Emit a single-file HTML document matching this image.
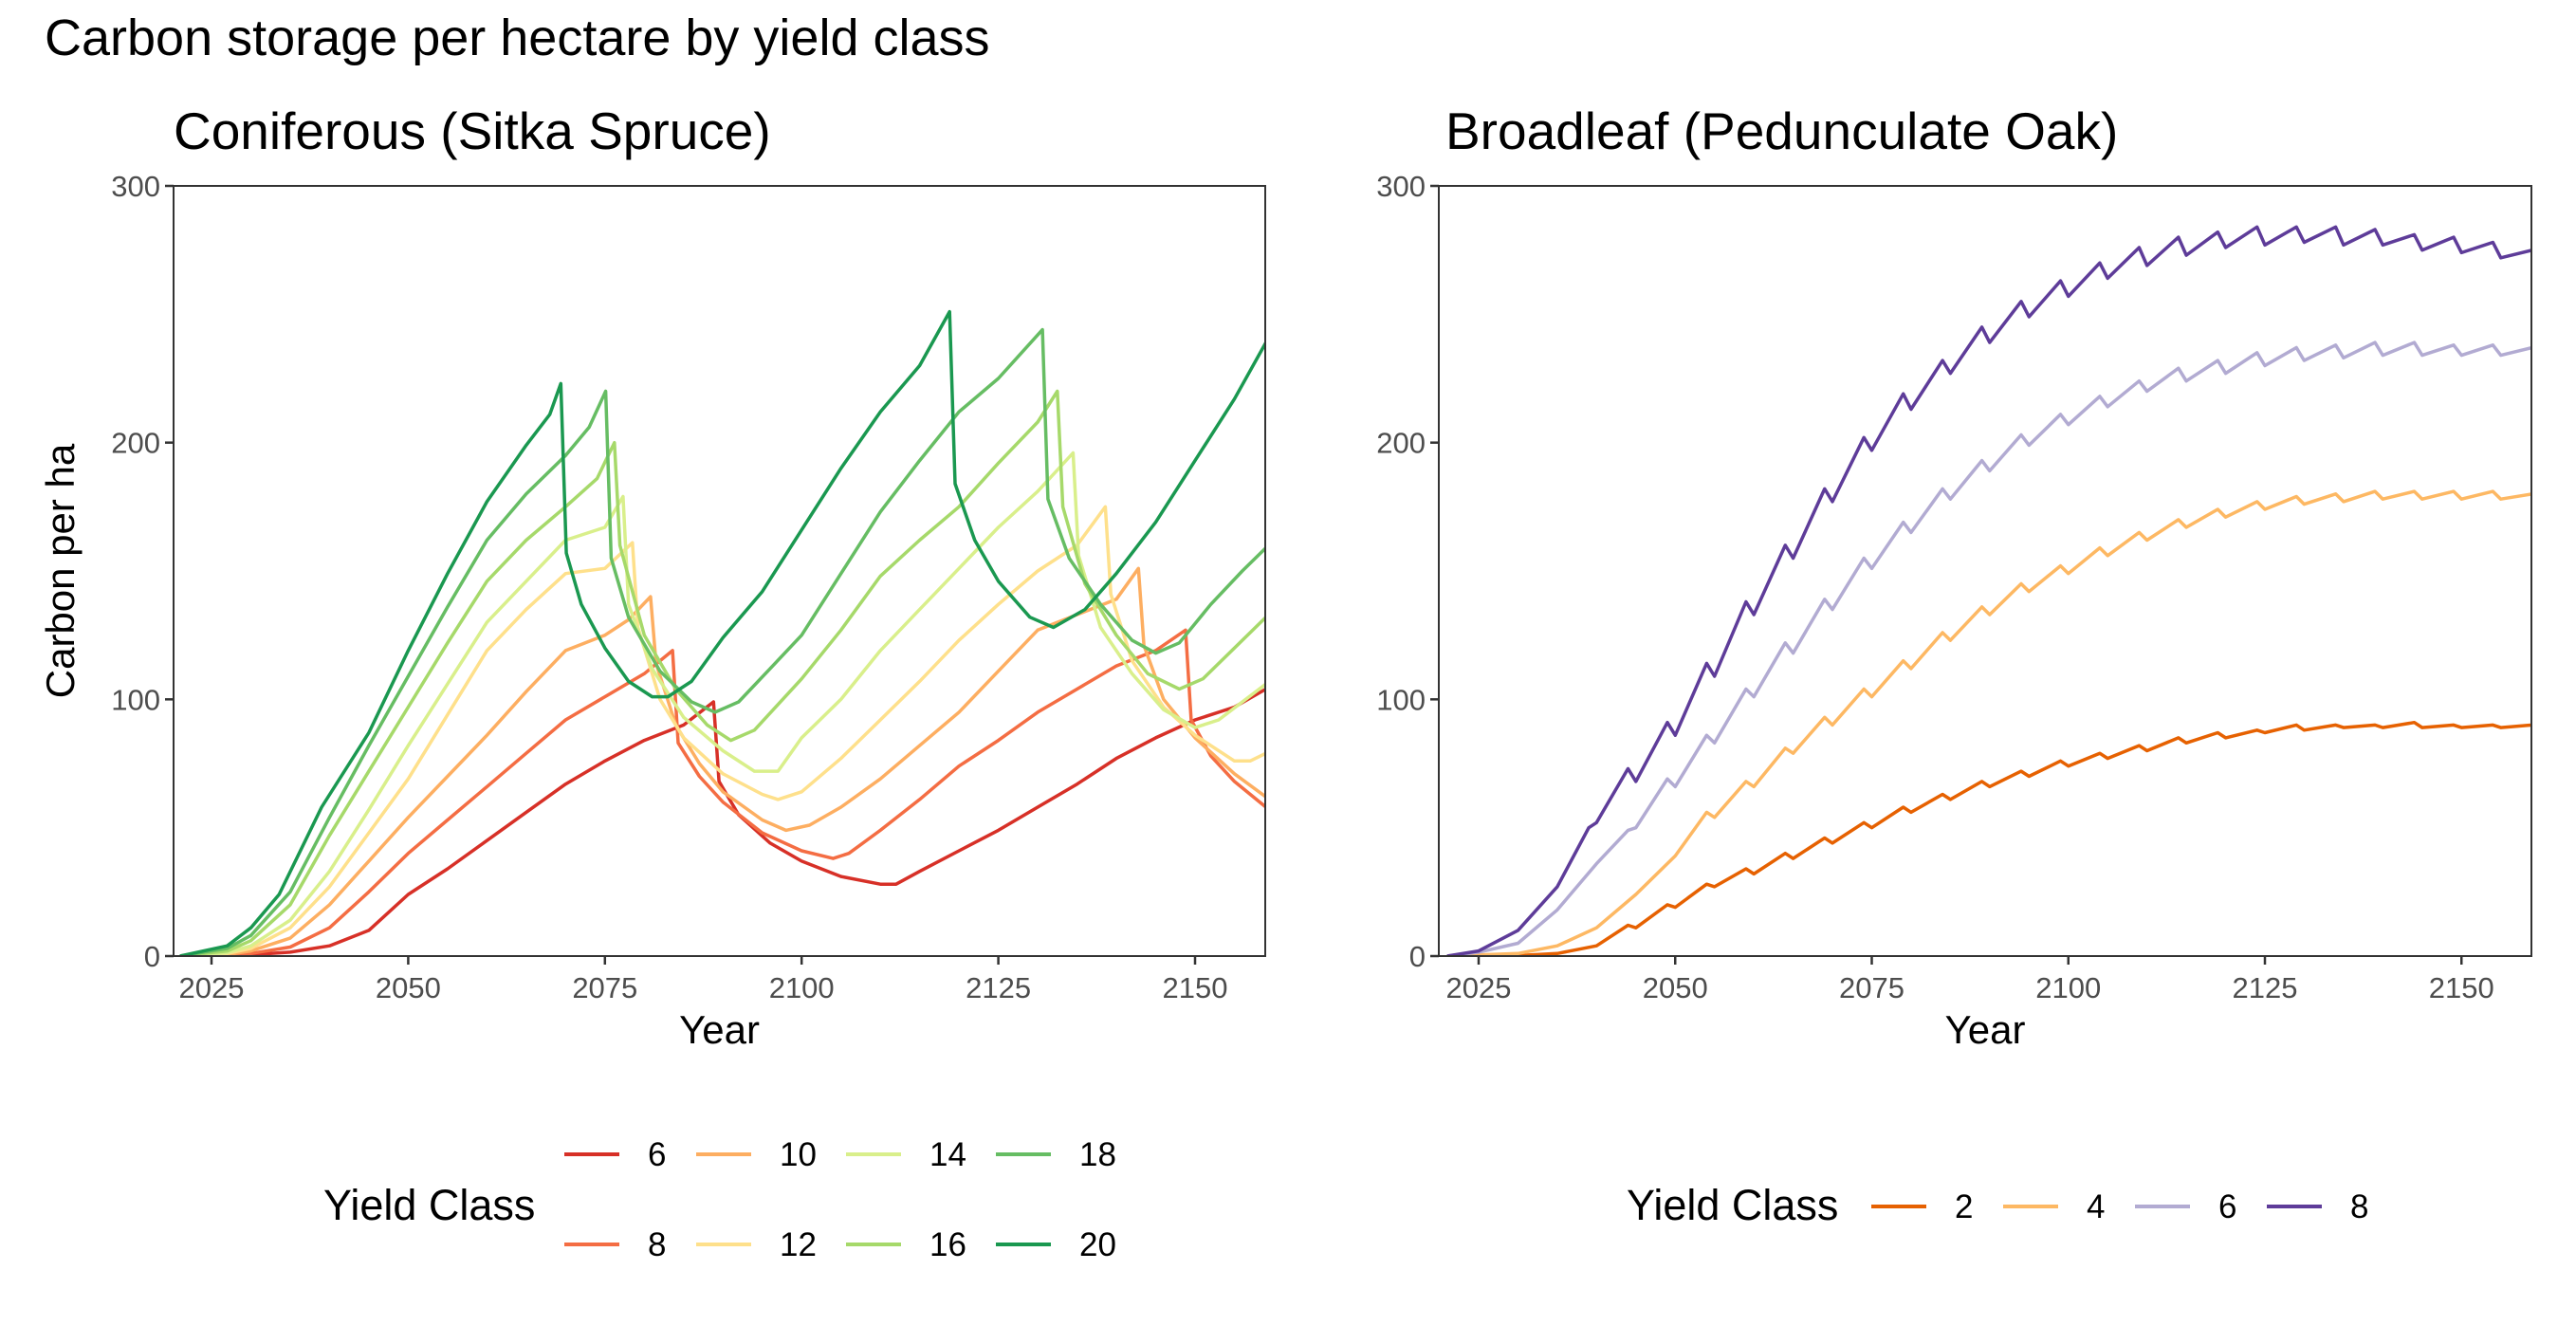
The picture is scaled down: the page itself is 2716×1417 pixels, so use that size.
<!DOCTYPE html>
<html><head><meta charset="utf-8"><style>
html,body{margin:0;padding:0;background:#fff;}
svg{display:block;font-family:"Liberation Sans",Arial,sans-serif;}
</style></head><body>
<svg id="chart" width="2716" height="1417" viewBox="0 0 2716 1417" xmlns="http://www.w3.org/2000/svg">
<text x="47" y="58" font-size="54" fill="#000">Carbon storage per hectare by yield class</text>
<text x="183" y="157" font-size="55" fill="#000">Coniferous (Sitka Spruce)</text>
<text x="1524" y="157" font-size="55" fill="#000">Broadleaf (Pedunculate Oak)</text>
<g id="left"></g>
<g id="right"></g>
<g id="legL"></g>
<g id="legR"></g>
</svg>
<script>
const yTicks = [0, 100, 200, 300];
const xTicks = [2025, 2050, 2075, 2100, 2125, 2150];
const conClasses = ["6","8","10","12","14","16","18","20"];
const conColors = ["#d73027","#f46d43","#fdae61","#fee08b","#d9ef8b","#a6d96a","#66bd63","#1a9850"];
const yc6  = [[2021,0],[2027,0.2],[2030,0.5],[2035,1.5],[2040,4],[2045,10],[2050,24],[2055,34],[2060,45],[2065,56],[2070,67],[2075,76],[2080,84],[2085,90],[2088.8,99],[2089.5,68],[2092,55],[2096,44],[2100,37],[2105,31],[2110,28],[2112,28],[2115,33],[2120,41],[2125,49],[2130,58],[2135,67],[2140,77],[2145,85],[2150,92],[2155,97],[2159,104]];
const yc8  = [[2021,0],[2027,0.3],[2030,1],[2035,3.5],[2040,11],[2045,25],[2050,40],[2055,53],[2060,66],[2065,79],[2070,92],[2075,101],[2080,110],[2083.6,119],[2084.3,83],[2087,70],[2090,60],[2095,48],[2100,41],[2104,38],[2106,40],[2110,49],[2115,61],[2120,74],[2125,84],[2130,95],[2135,104],[2140,113],[2145,119],[2148.8,127],[2149.5,92],[2152,78],[2155,68],[2159,58]];
const yc10 = [[2021,0],[2027,0.6],[2030,2],[2035,7],[2040,20],[2045,37],[2050,54],[2055,70],[2060,86],[2065,103],[2070,119],[2075,125],[2078,131],[2080.8,140],[2081.5,114],[2084,90],[2087,75],[2090,64],[2095,53],[2098,49],[2101,51],[2105,58],[2110,69],[2115,82],[2120,95],[2125,111],[2130,127],[2135,133],[2140,139],[2142.8,151],[2143.5,121],[2146,100],[2150,85],[2155,71],[2159,62]];
const yc12 = [[2021,0],[2027,1],[2030,3],[2035,11],[2040,27],[2045,48],[2050,69],[2055,94],[2060,119],[2065,135],[2070,149],[2075,151],[2078.5,161],[2079.2,128],[2082,100],[2085,85],[2090,71],[2095,63],[2097,61],[2100,64],[2105,77],[2110,92],[2115,107],[2120,123],[2125,137],[2130,150],[2135,160],[2138.6,175],[2139.3,141],[2142,115],[2146,97],[2150,86],[2155,76],[2157,76],[2159,79]];
const yc14 = [[2021,0],[2027,1.3],[2030,4],[2035,14],[2040,33],[2045,57],[2050,82],[2055,106],[2060,130],[2065,146],[2070,162],[2075,167],[2077.3,179],[2078,137],[2081,112],[2085,93],[2090,80],[2094,72],[2097,72],[2100,85],[2105,100],[2110,119],[2115,135],[2120,151],[2125,167],[2130,181],[2134.5,196],[2135.2,156],[2138,128],[2142,110],[2146,96],[2150,89],[2153,92],[2159,106]];
const yc16 = [[2021,0],[2027,2],[2030,6],[2035,20],[2040,47],[2045,72],[2050,97],[2055,122],[2060,146],[2065,162],[2070,175],[2074,186],[2076.2,200],[2076.9,160],[2080,125],[2084,104],[2088,90],[2091,84],[2094,88],[2100,108],[2105,127],[2110,148],[2115,162],[2120,175],[2125,192],[2130,208],[2132.5,220],[2133.2,175],[2136,145],[2140,125],[2144,110],[2148,104],[2151,108],[2155,120],[2159,132]];
const yc18 = [[2021,0],[2027,3],[2030,8],[2035,25],[2040,54],[2045,82],[2050,109],[2055,136],[2060,162],[2065,180],[2070,195],[2073,206],[2075.1,220],[2075.8,155],[2078,132],[2082,111],[2086,99],[2089,95],[2092,99],[2096,112],[2100,125],[2105,149],[2110,173],[2115,193],[2120,212],[2125,225],[2130.6,244],[2131.3,178],[2134,155],[2138,137],[2142,123],[2145,118],[2148,122],[2152,137],[2156,150],[2159,159]];
const yc20 = [[2021,0],[2027,4],[2030,11],[2033.6,24],[2039,58],[2045,87],[2050,119],[2055,149],[2060,177],[2065,199],[2068,211],[2069.4,223],[2070.1,157],[2072,137],[2075,120],[2078,107],[2081,101],[2083,101],[2086,107],[2090,124],[2095,142],[2100,166],[2105,190],[2110,212],[2115,230],[2118.8,251],[2119.5,184],[2122,162],[2125,146],[2129,132],[2132,128],[2136,135],[2140,149],[2145,169],[2150,193],[2155,217],[2159,239]];
const conSeries = [yc6, yc8, yc10, yc12, yc14, yc16, yc18, yc20];

const oakClasses = ["2","4","6","8"];
const oakColors = ["#e66101","#fdb863","#b2abd2","#5e3c99"];
const oak2 = [[2021,0],[2030,0.2],[2035,1],[2040,4],[2044,12],[2045,11],[2049,20],[2050,19],[2054,28],[2055,27],[2059,34],[2060,32],[2064,40],[2065,38],[2069,46],[2070,44],[2074,52],[2075,50],[2079,58],[2080,56],[2084,63],[2085,61],[2089,68],[2090,66],[2094,72],[2095,70],[2099,76],[2100,74],[2104,79],[2105,77],[2109,82],[2110,80],[2114,85],[2115,83],[2119,87],[2120,85],[2124,88],[2125,87],[2129,90],[2130,88],[2134,90],[2135,89],[2139,90],[2140,89],[2144,91],[2145,89],[2149,90],[2150,89],[2154,90],[2155,89],[2159,90]];
const oak4 = [[2021,0],[2030,1],[2035,4],[2040,11],[2045,24],[2050,39],[2054,56],[2055,54],[2059,68],[2060,66],[2064,81],[2065,79],[2069,93],[2070,90],[2074,104],[2075,101],[2079,115],[2080,112],[2084,126],[2085,123],[2089,136],[2090,133],[2094,145],[2095,142],[2099,152],[2100,149],[2104,159],[2105,156],[2109,165],[2110,162],[2114,170],[2115,167],[2119,174],[2120,171],[2124,177],[2125,174],[2129,179],[2130,176],[2134,180],[2135,177],[2139,181],[2140,178],[2144,181],[2145,178],[2149,181],[2150,178],[2154,181],[2155,178],[2159,180]];
const oak6 = [[2021,0],[2025,1.5],[2030,5],[2035,18],[2040,36],[2044,49],[2045,50],[2049,69],[2050,66],[2054,86],[2055,83],[2059,104],[2060,101],[2064,122],[2065,118],[2069,139],[2070,135],[2074,155],[2075,151],[2079,169],[2080,165],[2084,182],[2085,178],[2089,193],[2090,189],[2094,203],[2095,199],[2099,211],[2100,207],[2104,218],[2105,214],[2109,224],[2110,220],[2114,229],[2115,224],[2119,232],[2120,227],[2124,235],[2125,230],[2129,237],[2130,232],[2134,238],[2135,233],[2139,239],[2140,234],[2144,239],[2145,234],[2149,238],[2150,234],[2154,238],[2155,234],[2159,237]];
const oak8 = [[2021,0],[2025,2],[2030,10],[2035,27],[2039,50],[2040,52],[2044,73],[2045,68],[2049,91],[2050,86],[2054,114],[2055,109],[2059,138],[2060,133],[2064,160],[2065,155],[2069,182],[2070,177],[2074,202],[2075,197],[2079,219],[2080,213],[2084,232],[2085,227],[2089,245],[2090,239],[2094,255],[2095,249],[2099,263],[2100,257],[2104,270],[2105,264],[2109,276],[2110,269],[2114,280],[2115,273],[2119,282],[2120,276],[2124,284],[2125,277],[2129,284],[2130,278],[2134,284],[2135,277],[2139,283],[2140,277],[2144,281],[2145,275],[2149,280],[2150,274],[2154,278],[2155,272],[2159,275]];
const oakSeries = [oak2, oak4, oak6, oak8];

const NS = "http://www.w3.org/2000/svg";
function mk(tag, attrs, parent){const e=document.createElementNS(NS,tag);for(const k in attrs)e.setAttribute(k,attrs[k]);parent.appendChild(e);return e;}

function panel(g, x0, x1, yTop, yBot, xAt2025, pxPerYear, series, colors, classes, showYTitle){
  const X = yr => xAt2025 + (yr-2025)*pxPerYear;
  const Y = v => yBot - v*(yBot-yTop)/300;
  yTicks.forEach(t=>{
    const tl=mk("line",{x1:x0-9,x2:x0,y1:Y(t),y2:Y(t),stroke:"#333","stroke-width":2.5},g);
    
    
    const tx=mk("text",{x:x0-14,y:Y(t)+11,"text-anchor":"end","font-size":31,fill:"#4d4d4d"},g);
    tx.textContent=t;
    
    
  });
  xTicks.forEach(t=>{
    const tl=mk("line",{x1:X(t),x2:X(t),y1:yBot,y2:yBot+9,stroke:"#333","stroke-width":2.5},g);
    
    
    const tx=mk("text",{x:X(t),y:yBot+44,"text-anchor":"middle","font-size":31,fill:"#4d4d4d"},g);
    tx.textContent=t;
    
    
  });
  const clip="c"+x0;
  const cp=mk("clipPath",{id:clip},g); mk("rect",{x:x0,y:yTop,width:x1-x0,height:yBot-yTop},cp);
  const sg=mk("g",{"clip-path":"url(#"+clip+")"},g);
  series.forEach((s,i)=>{
    const p=mk("polyline",{points:s.map(d=>X(d[0]).toFixed(1)+","+Y(d[1]).toFixed(1)).join(" "),fill:"none",stroke:colors[i],"stroke-width":3.5,"stroke-linejoin":"round"},sg);
    
    
  });
  const fr=mk("rect",{x:x0,y:yTop,width:x1-x0,height:yBot-yTop,fill:"none",stroke:"#333","stroke-width":2},g);
  
  
  const xt=mk("text",{x:(x0+x1)/2,y:yBot+92,"text-anchor":"middle","font-size":42,fill:"#000"},g);
  xt.textContent="Year";
  
  
  if(showYTitle){
    const yt=mk("text",{x:0,y:0,transform:"translate(78,"+((yTop+yBot)/2)+") rotate(-90)","text-anchor":"middle","font-size":42,fill:"#000"},g);
    yt.textContent="Carbon per ha";
    
    
  }
}
panel(document.getElementById("left"),183,1334,196,1008,223,8.296,conSeries,conColors,conClasses,true);
panel(document.getElementById("right"),1517,2669,196,1008,1559,8.29,oakSeries,oakColors,oakClasses,false);

function legendItem(g, lx, ly, label, color){
  const l=mk("line",{x1:lx,x2:lx+58,y1:ly,y2:ly,stroke:color,"stroke-width":4},g);
  
  
  const t=mk("text",{x:lx+88,y:ly+12,"font-size":35,fill:"#000"},g);
  t.textContent=label;
  
  
}
const gl=document.getElementById("legL");
const tL=mk("text",{x:341,y:1286,"font-size":45,fill:"#000"},gl);
tL.textContent="Yield Class";


const colX=[595,734,892,1050];
conClasses.forEach((c,i)=>{legendItem(gl,colX[Math.floor(i/2)],i%2===0?1217:1312,c,conColors[i]);});
const gr=document.getElementById("legR");
const tR=mk("text",{x:1715,y:1286,"font-size":45,fill:"#000"},gr);
tR.textContent="Yield Class";


const colXR=[1973,2112,2251,2390];
oakClasses.forEach((c,i)=>{legendItem(gr,colXR[i],1272,c,oakColors[i]);});
</script>
</body></html>
